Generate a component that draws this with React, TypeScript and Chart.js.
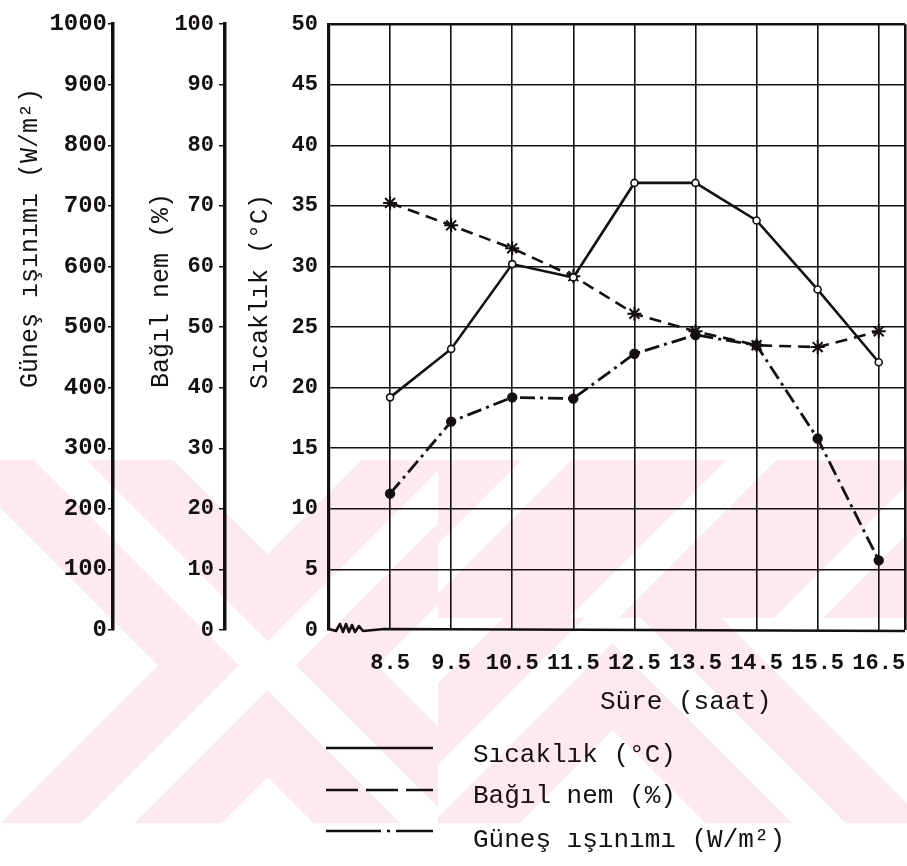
import React, { useEffect, useRef } from 'react';
import { Chart, registerables } from 'chart.js';

Chart.register(...registerables);

// Measurement times (hour of day) and their printed labels
const hours = [8.5, 9.5, 10.5, 11.5, 12.5, 13.5, 14.5, 15.5, 16.5];
const hourLabels = ['8.5', '9.5', '10.5', '11.5', '12.5', '13.5', '14.5', '15.5', '16.5'];

// Series
const temperature = [19.2, 23.2, 30.2, 29.1, 36.9, 36.9, 33.8, 28.1, 22.1]; // °C
const humidity = [70.5, 66.8, 63.0, 58.4, 52.2, 49.3, 47.0, 46.7, 49.3]; // %
const radiation = [225, 344, 384, 382, 456, 487, 470, 316, 115]; // W/m²

// Axis ranges: [min, max, step]
const radiationRange = [0, 1000, 100];
const humidityRange = [0, 100, 10];
const temperatureRange = [0, 50, 5];
const timeRange = [7.5, 16.93];

const radiationTitle = 'Güneş ışınımı (W/m²)';
const humidityTitle = 'Bağıl nem (%)';
const temperatureTitle = 'Sıcaklık (°C)';
const timeTitle = 'Süre (saat)';
const seriesNames = ['Sıcaklık (°C)', 'Bağıl nem (%)', 'Güneş ışınımı (W/m²)'];

const FONT = "'Liberation Mono', 'DejaVu Sans Mono', monospace";
const INK = '#141010';
const plain = (v: any) => String(v);

// Faint striped paper mark behind the lower half of the figure
function markIsPink(x: number, y: number) {
  if (x < 438) {
    // chevrons around the left centre
    const c = Math.abs(665 - y) - Math.abs(x - 267);
    return (c >= 25 && c <= 111) || (c >= -109 && c <= -29);
  }
  if (y < 618) {
    // rising stripes on the upper right
    const s = (((x + y - 981) % 205) + 205) % 205;
    return s >= 50;
  }
  const c = Math.abs(618 - y) - Math.abs(x - 612);
  return (c >= 25 && c <= 111) || (c >= -109 && c <= -29);
}

const paperMark = {
  id: 'paperMark',
  beforeDraw(chart: any) {
    const { ctx, width, height } = chart;
    ctx.save();
    ctx.fillStyle = '#ffffff';
    ctx.fillRect(0, 0, width, height);
    const top = 460;
    const bottom = 823;
    const img = ctx.createImageData(width, bottom - top);
    for (let y = top; y < bottom; y++) {
      for (let x = 0; x < width; x++) {
        const pink = markIsPink(x, y);
        const i = ((y - top) * width + x) * 4;
        img.data[i] = pink ? 252 : 255;
        img.data[i + 1] = pink ? 234 : 255;
        img.data[i + 2] = pink ? 238 : 255;
        img.data[i + 3] = 255;
      }
    }
    ctx.putImageData(img, 0, top);
    ctx.restore();
  },
};

// Axis titles, time-axis title, frame bottom with break mark, and the key
const figureText = {
  id: 'figureText',
  afterDraw(chart: any) {
    const { ctx, chartArea, scales } = chart;
    ctx.save();
    ctx.fillStyle = INK;
    ctx.strokeStyle = INK;

    // rotated axis titles
    ctx.font = `25px ${FONT}`;
    ctx.textAlign = 'left';
    ctx.textBaseline = 'alphabetic';
    const vTitle = (text: string, x: number, y: number) => {
      ctx.save();
      ctx.translate(x, y);
      ctx.rotate(-Math.PI / 2);
      ctx.fillText(text, 0, 0);
      ctx.restore();
    };
    vTitle(radiationTitle, scales.yRad.left + 37, 388);
    vTitle(humidityTitle, scales.yHum.left + 55, 388);
    vTitle(temperatureTitle, scales.yTemp.left + 42, 389);

    // time axis title
    ctx.font = `26px ${FONT}`;
    ctx.textBaseline = 'middle';
    ctx.fillText(timeTitle, chartArea.left + 271, chartArea.bottom + 72);

    // bottom edge of the frame with a small break mark at the origin
    const y0 = scales.yTemp.getPixelForValue(0);
    const l = chartArea.left;
    ctx.lineWidth = 2.6;
    ctx.lineJoin = 'round';
    ctx.beginPath();
    ctx.moveTo(l, y0 - 1);
    ctx.lineTo(l + 7, y0 + 1);
    ctx.lineTo(l + 11, y0 - 6);
    ctx.lineTo(l + 14, y0 + 2);
    ctx.lineTo(l + 17, y0 - 6);
    ctx.lineTo(l + 20, y0 + 2);
    ctx.lineTo(l + 23, y0 - 5);
    ctx.lineTo(l + 26, y0 + 2);
    ctx.lineTo(l + 30, y0 - 4);
    ctx.lineTo(l + 34, y0 + 1);
    ctx.lineTo(l + 55, y0 - 1);
    ctx.lineTo(chartArea.right, y0 + 1);
    ctx.stroke();

    // key
    const keyDash = [[], [32, 8], [55, 6, 3, 6]];
    const lineY = [118, 160, 201];
    const textY = [125, 166, 210];
    chart.data.datasets.forEach((_ds: any, i: number) => {
      ctx.save();
      ctx.lineWidth = 2.6;
      ctx.setLineDash(keyDash[i]);
      ctx.beginPath();
      ctx.moveTo(l - 3, chartArea.bottom + lineY[i]);
      ctx.lineTo(l + 104, chartArea.bottom + lineY[i]);
      ctx.stroke();
      ctx.restore();
      ctx.font = `26px ${FONT}`;
      ctx.textBaseline = 'middle';
      ctx.fillText(seriesNames[i], l + 144, chartArea.bottom + textY[i]);
    });
    ctx.restore();
  },
};

export default function App() {
  const ref = useRef<HTMLCanvasElement>(null);

  useEffect(() => {
    document.body.style.margin = '0';
    const points = (vals: number[]) => hours.map((h, i) => ({ x: h, y: vals[i] }));

    const chart = new Chart(ref.current as HTMLCanvasElement, {
      type: 'line',
      data: {
        datasets: [
          {
            label: seriesNames[0],
            data: points(temperature),
            yAxisID: 'yTemp',
            borderColor: INK,
            borderWidth: 2.6,
            pointStyle: 'circle',
            pointRadius: 3.5,
            pointBackgroundColor: '#ffffff',
            pointBorderColor: INK,
            pointBorderWidth: 1.6,
            tension: 0,
          },
          {
            label: seriesNames[1],
            data: points(humidity),
            yAxisID: 'yHum',
            borderColor: INK,
            borderWidth: 2.6,
            borderDash: [12, 7],
            pointStyle: 'star',
            pointRadius: 7,
            pointBorderColor: INK,
            pointBorderWidth: 2,
            tension: 0,
          },
          {
            label: seriesNames[2],
            data: points(radiation),
            yAxisID: 'yRad',
            borderColor: INK,
            borderWidth: 2.8,
            borderDash: [15, 5, 3, 5],
            pointStyle: 'circle',
            pointRadius: 3.8,
            pointBackgroundColor: INK,
            pointBorderColor: INK,
            tension: 0,
          },
        ],
      },
      options: {
        animation: false,
        responsive: false,
        devicePixelRatio: 1,
        layout: { autoPadding: false, padding: { left: 0, right: 2, top: 20, bottom: 0 } },
        plugins: { legend: { display: false }, tooltip: { enabled: false } },
        scales: {
          x: {
            type: 'linear',
            min: timeRange[0],
            max: timeRange[1],
            afterBuildTicks: (s: any) => {
              s.ticks = [...hours.map((v) => ({ value: v })), { value: timeRange[1] }];
            },
            afterFit: (s: any) => {
              s.height = 236;
              s.paddingLeft = 0;
              s.paddingRight = 0;
            },
            ticks: {
              callback: (_v: any, i: number) => hourLabels[i] ?? '',
              font: { family: FONT, size: 22, weight: 'bold' },
              color: INK,
              padding: 2,
              maxRotation: 0,
              autoSkip: false,
            },
            grid: {
              color: INK,
              lineWidth: (c: any) => (c.tick && c.tick.value === timeRange[1] ? 2.6 : 1.6),
              drawTicks: true,
              tickLength: 18,
              tickColor: 'rgba(0,0,0,0)',
            },
            border: { display: false },
          },
          yRad: {
            type: 'linear',
            position: 'left',
            weight: 2,
            min: radiationRange[0],
            max: radiationRange[1],
            afterFit: (s: any) => {
              s.width = 113;
            },
            ticks: {
              stepSize: radiationRange[2],
              callback: plain,
              font: { family: FONT, size: 24, weight: 'bold' },
              color: INK,
              padding: 1,
            },
            grid: { drawOnChartArea: false, drawTicks: true, tickLength: 5, color: INK, lineWidth: 1.5 },
            border: { display: true, color: INK, width: 3.5 },
          },
          yHum: {
            type: 'linear',
            position: 'left',
            weight: 1,
            min: humidityRange[0],
            max: humidityRange[1],
            afterFit: (s: any) => {
              s.width = 112;
            },
            ticks: {
              stepSize: humidityRange[2],
              callback: plain,
              font: { family: FONT, size: 22, weight: 'bold' },
              color: INK,
              padding: 5,
            },
            grid: { drawOnChartArea: false, drawTicks: true, tickLength: 6, color: INK, lineWidth: 1.5 },
            border: { display: true, color: INK, width: 3.5 },
          },
          yTemp: {
            type: 'linear',
            position: 'left',
            weight: 0,
            min: temperatureRange[0],
            max: temperatureRange[1],
            afterFit: (s: any) => {
              s.width = 104;
            },
            ticks: {
              stepSize: temperatureRange[2],
              callback: plain,
              font: { family: FONT, size: 22, weight: 'bold' },
              color: INK,
              padding: 11,
            },
            grid: {
              drawOnChartArea: true,
              drawTicks: false,
              color: (c: any) => (c.tick && c.tick.value === 0 ? 'rgba(0,0,0,0)' : INK),
              lineWidth: (c: any) => (c.tick && c.tick.value === temperatureRange[1] ? 2.6 : 1.6),
            },
            border: { display: true, color: INK, width: 3.2 },
          },
        },
      },
      plugins: [paperMark, figureText],
    } as any);

    return () => chart.destroy();
  }, []);

  return (
    <div style={{ position: 'fixed', left: 0, top: 0, width: 907, height: 866, background: '#ffffff' }}>
      <canvas ref={ref} width={907} height={866} style={{ display: 'block', width: 907, height: 866 }} />
    </div>
  );
}
